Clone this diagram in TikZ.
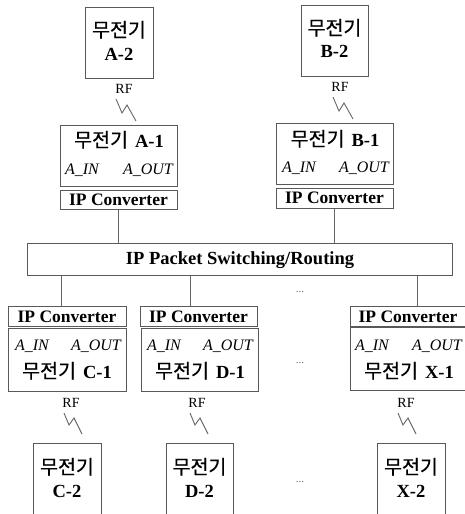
\documentclass[tikz,border=0pt]{standalone}
\usepackage{fontspec}
\setmainfont{Liberation Serif}
\newfontfamily\kr[FakeBold=0.6]{Noto Sans CJK KR}
\usetikzlibrary{calc}
\newcommand{\krs}{\kr\fontsize{19.5}{22}\selectfont}
\newcommand{\lbs}{\fontsize{18.5}{22}\selectfont\bfseries}
\begin{document}
\begin{tikzpicture}[x=1pt,y=-1pt,
  box/.style={draw=black!65, line width=1pt, fill=white, inner sep=0pt},
  conn/.style={draw=black!60, line width=1pt},
  bolt/.style={draw=black!60, line width=0.9pt, line join=miter},
  txt/.style={inner sep=0pt, anchor=base},
  kor/.style={txt, font=\krs},
  lab/.style={txt, font=\lbs},
  ipt/.style={txt, font=\fontsize{17.5}{20}\selectfont\bfseries},
  port/.style={txt, font=\fontsize{16}{18}\selectfont\itshape},
  rf/.style={txt, font=\fontsize{14}{16}\selectfont},
  dots/.style={txt, font=\fontsize{11}{12}\selectfont, text=black!60}]
\useasboundingbox (0,0) rectangle (465,514);
\clip (0,0) rectangle (465,514);

% ---- top remote radios
\node[box, minimum width=68pt, minimum height=71pt] (a2) at (119,42.5) {};
\node[kor] (a2t) at (119,37) {무전기};
\node[lab] (a2n) at (119,60) {A-2};
\node[box, minimum width=67pt, minimum height=71pt] (b2) at (334.5,40.5) {};
\node[kor] (b2t) at (334.5,35) {무전기};
\node[lab] (b2n) at (334.5,57) {B-2};

\node[rf] (rfa) at (124,93) {RF};
\node[rf] (rfb) at (340,91) {RF};
\coordinate (la) at (116,99);
\coordinate (lb) at (333,97);
\draw[bolt] (la) -- ++(6,14) -- ++(5,-8) -- ++(9,16);
\draw[bolt] (lb) -- ++(6,14) -- ++(5,-8) -- ++(9,16);

% ---- A-1 / B-1
\node[box, minimum width=117pt, minimum height=61pt] (a1) at (118.5,155.5) {};
\node[txt] (a1t) at (119,147) {{\krs 무전기}\hspace{7pt}{\lbs A-1}};
\node[port] (a1i) at (82,174) {A\_IN};
\node[port] (a1o) at (148,174) {A\_OUT};
\node[box, minimum width=117pt, minimum height=19pt] (ipa) at (118.5,199.5) {};
\node[ipt] (ipat) at (118.5,205) {IP Converter};

\node[box, minimum width=117pt, minimum height=61pt] (b1) at (334.5,153.5) {};
\node[txt] (b1t) at (335,146) {{\krs 무전기}\hspace{7pt}{\lbs B-1}};
\node[port] (b1i) at (299,172) {A\_IN};
\node[port] (b1o) at (364,172) {A\_OUT};
\node[box, minimum width=117pt, minimum height=20pt] (ipb) at (334.5,198) {};
\node[ipt] (ipbt) at (334.5,203.5) {IP Converter};

% ---- switching box
\node[box, minimum width=425pt, minimum height=32pt] (pkt) at (239.5,259) {};
\node[ipt, font=\fontsize{18.5}{20}\selectfont\bfseries] (pktt) at (240,264.5) {IP Packet Switching/Routing};

\draw[conn] (ipa.south) -- (ipa.south |- pkt.north);
\draw[conn] (ipb.south) -- (ipb.south |- pkt.north);

% ---- lower converters
\node[box, minimum width=118pt, minimum height=20pt] (ipc) at (67,316) {};
\node[ipt] (ipct) at (67,322) {IP Converter};
\node[box, minimum width=118pt, minimum height=63pt] (c1) at (67,359.5) {};
\node[port] (c1i) at (32,350) {A\_IN};
\node[port] (c1o) at (96,350) {A\_OUT};
\node[txt] (c1t) at (67,378) {{\krs 무전기}\hspace{7pt}{\lbs C-1}};

\node[box, minimum width=117pt, minimum height=20pt] (ipd) at (198.5,316) {};
\node[ipt] (ipdt) at (198.5,322) {IP Converter};
\node[box, minimum width=117pt, minimum height=63pt] (d1) at (199.5,359.5) {};
\node[port] (d1i) at (164,350) {A\_IN};
\node[port] (d1o) at (228,350) {A\_OUT};
\node[txt] (d1t) at (200,378) {{\krs 무전기}\hspace{7pt}{\lbs D-1}};

\node[box, minimum width=118pt, minimum height=20pt] (ipx) at (409,316) {};
\node[ipt] (ipxt) at (408,322) {IP Converter};
\node[box, minimum width=118pt, minimum height=63pt] (x1) at (409,358.5) {};
\node[port] (x1i) at (372,350) {A\_IN};
\node[port] (x1o) at (437,350) {A\_OUT};
\node[txt] (x1t) at (409,378) {{\krs 무전기}\hspace{7pt}{\lbs X-1}};

\coordinate (tc) at ([xshift=-6pt]ipc.north);
\coordinate (td) at ([xshift=-8pt]ipd.north);
\coordinate (tx) at ([xshift=8pt]ipx.north);
\draw[conn] (tc |- pkt.south) -- (tc);
\draw[conn] (td |- pkt.south) -- (td);
\draw[conn] (tx |- pkt.south) -- (tx);

\node[dots] (d1a) at (300,292) {...};
\node[dots] (d2a) at (300,363) {...};
\node[dots] (d3a) at (300,482) {...};

% ---- lower RF links
\node[rf] (rfc) at (71,407) {RF};
\node[rf] (rfd) at (197,407) {RF};
\node[rf] (rfx) at (406,407) {RF};
\coordinate (lc) at (64,413);
\coordinate (ld) at (190,413);
\coordinate (lx) at (398,413);
\draw[bolt] (lc) -- ++(5,12) -- ++(5,-7) -- ++(8,16);
\draw[bolt] (ld) -- ++(5,12) -- ++(5,-7) -- ++(8,16);
\draw[bolt] (lx) -- ++(5,12) -- ++(5,-7) -- ++(8,16);

% ---- bottom remote radios
\node[box, minimum width=68pt, minimum height=76pt] (c2) at (67,481) {};
\node[kor] (c2t) at (67,474) {무전기};
\node[lab] (c2n) at (67,497) {C-2};
\node[box, minimum width=67pt, minimum height=76pt] (d2) at (199.5,481) {};
\node[kor] (d2t) at (199.5,474) {무전기};
\node[lab] (d2n) at (199.5,497) {D-2};
\node[box, minimum width=68pt, minimum height=76pt] (x2) at (411,481) {};
\node[kor] (x2t) at (411,474) {무전기};
\node[lab] (x2n) at (411,497) {X-2};
\end{tikzpicture}
\end{document}
